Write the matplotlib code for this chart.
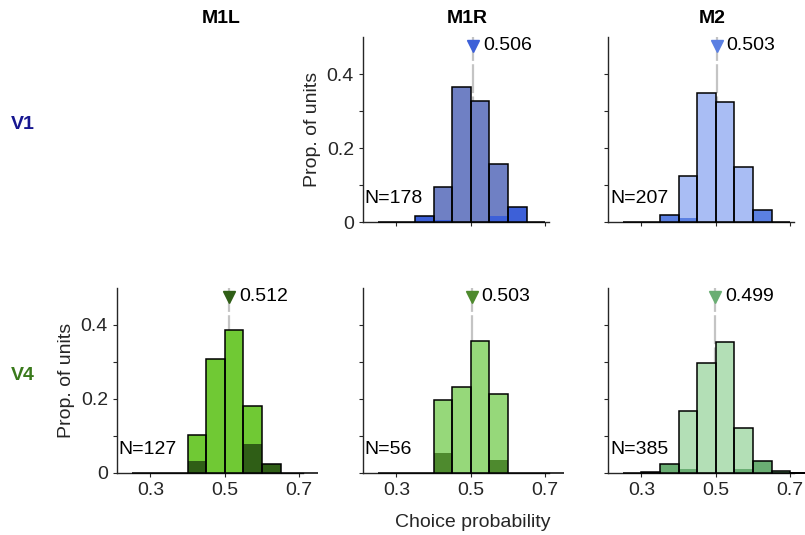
import numpy as np
import matplotlib
matplotlib.use("Agg")
import matplotlib.pyplot as plt
from matplotlib import transforms

plt.rcParams['font.family'] = ['Liberation Sans', 'DejaVu Sans']
plt.rcParams['font.size'] = 14

# histogram bins (left edges, width 0.05)
bin_lefts = [0.25, 0.30, 0.35, 0.40, 0.45, 0.50, 0.55, 0.60, 0.65, 0.70]
areas = ["M1L", "M1R", "M2"]
rows = ["V1", "V4"]

# unit counts per bin: all units and significant units
v1_m1r_all = [0, 0, 3, 17, 65, 58, 28, 7, 0]
v1_m1r_sig = [0, 0, 3, 1, 0, 0, 3, 7, 0]
v1_m2_all = [0, 0, 4, 26, 72, 67, 31, 7, 0]
v1_m2_sig = [0, 0, 4, 2, 0, 0, 0, 7, 0]
v4_m1l_all = [0, 0, 0, 13, 39, 49, 23, 3, 0, 0]
v4_m1l_sig = [0, 0, 0, 4, 0, 0, 10, 3, 0, 0]
v4_m1r_all = [0, 0, 0, 11, 13, 20, 12, 0, 0, 0]
v4_m1r_sig = [0, 0, 0, 3, 0, 0, 2, 0, 0, 0]
v4_m2_all = [0, 1, 9, 64, 114, 136, 47, 12, 2, 0]
v4_m2_sig = [0, 1, 9, 4, 0, 0, 4, 12, 2, 0]

# mean choice probability per panel
v1_means = [None, 0.506, 0.503]
v4_means = [0.512, 0.503, 0.499]

# colours: (bar fill, significant / marker)
v1_colors = [None, ("#6f80c4", "#3d60d8"), ("#a9bdf4", "#5b80e2")]
v4_colors = [("#70c934", "#2f5e16"), ("#96d87a", "#4e8a2e"), ("#b3dfb6", "#6aae73")]
row_colors = ["#161690", "#3a7a1c"]

panels = {
    (0, 1): (v1_m1r_all, v1_m1r_sig),
    (0, 2): (v1_m2_all, v1_m2_sig),
    (1, 0): (v4_m1l_all, v4_m1l_sig),
    (1, 1): (v4_m1r_all, v4_m1r_sig),
    (1, 2): (v4_m2_all, v4_m2_sig),
}
means = [v1_means, v4_means]
colors = [v1_colors, v4_colors]

fig = plt.figure(figsize=(8.05, 5.35), dpi=100)
lefts = [0.1453, 0.4509, 0.7553]
bottoms = [0.585, 0.1159]
w, h = 0.231, 0.3458
ink = "#262626"

for r in range(2):
    for c in range(3):
        ax = fig.add_axes([lefts[c], bottoms[r], w, h])
        ax.set_xlim(0.21, 0.71)
        ax.set_ylim(0, 0.5)
        if r == 0:
            tr = transforms.blended_transform_factory(ax.transData, ax.transAxes)
            ax.text(0.49, 1.1, areas[c], transform=tr, ha="center", va="center",
                    fontweight="bold")
        if (r, c) not in panels:
            ax.axis("off")
            continue
        all_counts, sig_counts = panels[(r, c)]
        n = sum(all_counts)
        xs = bin_lefts[:len(all_counts)]
        p_all = np.array(all_counts) / n
        p_sig = np.array(sig_counts) / n
        fill, dark = colors[r][c]
        m = means[r][c]

        ax.axvline(m, 0, 1, color="#c4c4c4", lw=1.6, dashes=(13, 1.5), zorder=1)
        ax.bar(xs, p_all, width=0.05, align="edge", color=fill, lw=0, zorder=2)
        ax.bar(xs, p_sig, width=0.05, align="edge", color=dark, lw=0, zorder=3)
        ax.bar(xs, p_all, width=0.05, align="edge", fill=False, edgecolor="black",
               lw=1.1, zorder=4, clip_on=False)
        ax.plot([m], [0.477], marker="v", ms=9, color=dark, ls="none", zorder=5,
                clip_on=False)
        ax.annotate(f"{m:.3f}", (m, 0.477), xytext=(7, 0), textcoords="offset points",
                    ha="left", va="center", color="black")
        ax.text(0.215, 0.064, f"N={n}", ha="left", va="center", color="black")

        for s in ["top", "right"]:
            ax.spines[s].set_visible(False)
        for s in ["left", "bottom"]:
            ax.spines[s].set_color(ink)
            ax.spines[s].set_linewidth(1)
        ax.set_xticks([0.3, 0.5, 0.7])
        ax.set_yticks([0, 0.1, 0.2, 0.3, 0.4])
        ax.tick_params(length=3, color=ink, labelcolor=ink, labelsize=14)
        if r == 1:
            ax.set_xticklabels(["0.3", "0.5", "0.7"])
        else:
            ax.set_xticklabels([])
        # leftmost panel of each row carries the y labels
        if c == 1 - r:
            ax.set_yticklabels(["0", "", "0.2", "", "0.4"])
            ax.set_ylabel("Prop. of units", color=ink)
        else:
            ax.set_yticklabels([])
        if r == 1 and c == 1:
            tr = transforms.blended_transform_factory(ax.transData, ax.transAxes)
            ax.text(0.505, -0.265, "Choice probability", transform=tr, ha="center",
                    va="center", color=ink)

for r in range(2):
    yc = bottoms[r] + h * 0.5 + 0.01
    fig.text(0.028, yc, rows[r], ha="center", va="center", fontweight="bold",
             color=row_colors[r])

fig.savefig("out.png", dpi=100)
